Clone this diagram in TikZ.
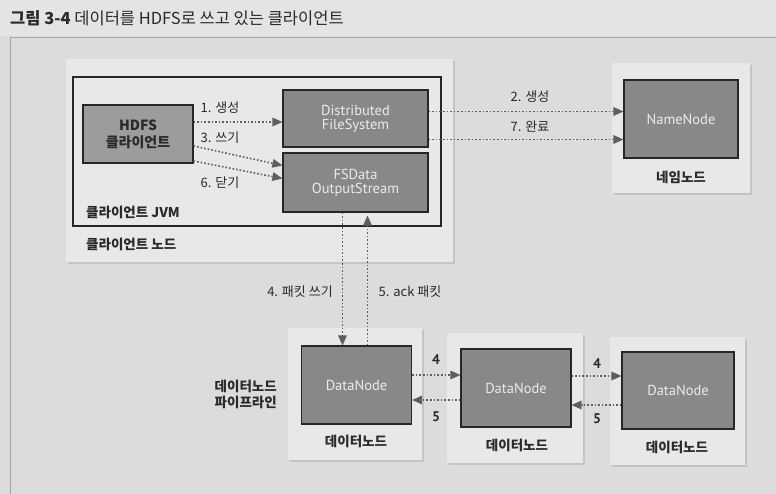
\documentclass[tikz,border=0pt]{standalone}
\usepackage{fontspec}
\setmainfont{Noto Sans CJK KR}
\newfontfamily\kr{Noto Sans CJK KR}
\newfontfamily\my{PT Sans}
\usetikzlibrary{arrows.meta,shadows}
\definecolor{bg}{HTML}{DCDCDC}
\definecolor{panelc}{HTML}{E8E8E8}
\definecolor{boxdark}{HTML}{888888}
\definecolor{boxlight}{HTML}{9C9C9C}
\definecolor{arrc}{HTML}{5E5E5E}
\definecolor{txt}{HTML}{2A2A2A}
\begin{document}
\begin{tikzpicture}[x=1pt,y=-1pt,
  panel/.style={fill=panelc,draw=none,minimum width=#1,inner sep=0pt,
    drop shadow={opacity=0.25,shadow xshift=2pt,shadow yshift=-2pt}},
  darkbox/.style={fill=boxdark,draw=black!85,line width=1.2pt,text=white!92!black,
    font=\my\fontsize{14.5}{16}\selectfont,align=center,inner sep=0pt},
  arr/.style={draw=arrc,line width=1.6pt,dotted,
    -{Triangle[length=10pt,width=9pt,fill=arrc,color=arrc,line width=0pt]}},
  lbl/.style={text=txt,font=\kr\fontsize{13}{15}\selectfont,inner sep=1pt},
  blbl/.style={text=txt,font=\kr\bfseries\fontsize{13.5}{16}\selectfont,inner sep=1pt},
  num/.style={text=txt,font=\my\bfseries\fontsize{14}{16}\selectfont,inner sep=1pt}]
% background
\fill[bg] (0,0) rectangle (776,494);
\useasboundingbox (0,0) rectangle (776,494);
\fill[white,opacity=0.25] (0,0) rectangle (776,36);
\draw[black!35,line width=0.8pt] (10,494) -- (10,37) -- (776,37);
% title
\node[anchor=west,text=txt,font=\kr\fontsize{16.5}{18}\selectfont,inner sep=0pt] (title) at (10,18)
  {{\bfseries 그림 3-4}\ 데이터를 HDFS로 쓰고 있는 클라이언트};
% client node
\node[panel=387pt,minimum height=203pt] (pc) at (259,161) {};
\node[fill=panelc,draw=black!85,line width=1.2pt,minimum width=368pt,minimum height=149pt,inner sep=0pt] (jvm) at (257,151.5) {};
\node[anchor=west,blbl] (jvmlbl) at (85,212) {클라이언트 JVM};
\node[anchor=west,blbl] (pclbl) at (85,244) {클라이언트 노드};
\node[fill=boxlight,draw=black!85,line width=1.2pt,minimum width=110pt,minimum height=58pt,
  text=txt,font=\kr\bfseries\fontsize{14}{17}\selectfont,align=center,inner sep=0pt] (hdfs) at (138,134)
  {HDFS\\클라이언트};
\node[darkbox,minimum width=145pt,minimum height=57pt] (dfs) at (355.5,118.5) {Distributed\\[-2pt]FileSystem};
\node[darkbox,minimum width=145pt,minimum height=59pt] (fsd) at (355.5,182.5) {FSData\\[-2pt]OutputStream};
% namenode
\node[panel=138pt,minimum height=130pt] (pn) at (681,128) {};
\node[darkbox,minimum width=114pt,minimum height=78pt] (nn) at (681,119) {NameNode};
\node[blbl] (nnlbl) at (681,177) {네임노드};
% datanodes
\node[panel=134pt,minimum height=132pt] (p1) at (355,394) {};
\node[panel=136pt,minimum height=130pt] (p2) at (515,398) {};
\node[panel=135pt,minimum height=128pt] (p3) at (677.5,401) {};
\node[darkbox,minimum width=110pt,minimum height=78pt] (d1) at (356.5,385) {DataNode};
\node[darkbox,minimum width=110pt,minimum height=78pt] (d2) at (516,388) {DataNode};
\node[darkbox,minimum width=112pt,minimum height=77pt] (d3) at (678,390.5) {DataNode};
\node[blbl] (d1lbl) at (356,441) {데이터노드};
\node[blbl] (d2lbl) at (517,445) {데이터노드};
\node[blbl] (d3lbl) at (677,447) {데이터노드};
\node[blbl,anchor=east,align=left] (pipe) at (278,394) {데이터노드\\파이프라인};
% client arrows
\coordinate (a1s) at ([yshift=12pt]hdfs.east);
\draw[arr] (a1s) -- (a1s -| dfs.west);
\coordinate (a3s) at ([yshift=-12pt]hdfs.east);
\draw[arr] (a3s) -- ([yshift=17pt]fsd.west);
\coordinate (a6s) at ([yshift=-27pt]hdfs.east);
\draw[arr] (a6s) -- ([yshift=4pt]fsd.west);
\node[lbl] (l1) at (220,108) {1. 생성};
\node[lbl] (l3) at (220,138) {3. 쓰기};
\node[lbl] (l6) at (220,183) {6. 닫기};
% to namenode
\coordinate (a2s) at ([yshift=7pt]dfs.east);
\draw[arr] (a2s) -- (a2s -| nn.west);
\coordinate (a7s) at ([yshift=-21pt]dfs.east);
\draw[arr] (a7s) -- (a7s -| nn.west);
\node[lbl] (l2) at (530,97) {2. 생성};
\node[lbl] (l7) at (530,127) {7. 완료};
% vertical
\coordinate (a4s) at ([xshift=-13pt]fsd.south);
\draw[arr] (a4s) -- (a4s |- d1.north);
\coordinate (a5s) at ([xshift=11pt]d1.north);
\draw[arr,shorten >=3pt] (a5s) -- (a5s |- fsd.south);
\node[lbl] (l4) at (300,292) {4. 패킷 쓰기};
\node[lbl] (l5) at (410,292) {5. ack 패킷};
% pipeline arrows
\coordinate (b1) at ([yshift=10pt]d1.east);
\draw[arr] (b1) -- (b1 -| d2.west);
\coordinate (b2) at ([yshift=-12pt]d2.west);
\draw[arr] (b2) -- (b2 -| d1.east);
\coordinate (b3) at ([yshift=12pt]d2.east);
\draw[arr] (b3) -- (b3 -| d3.west);
\coordinate (b4) at ([yshift=-14.5pt]d3.west);
\draw[arr] (b4) -- (b4 -| d2.east);
\node[num] (n1) at (436,360) {4};
\node[num] (n2) at (436,417) {5};
\node[num] (n3) at (597,364) {4};
\node[num] (n4) at (597,419) {5};
\end{tikzpicture}
\end{document}
